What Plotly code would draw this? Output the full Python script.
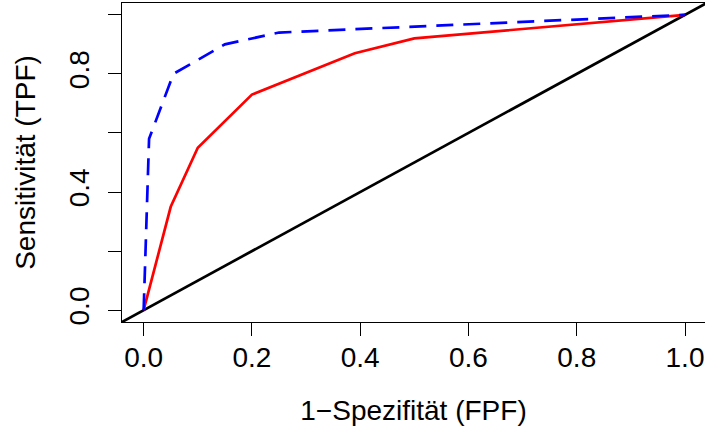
import plotly.graph_objects as go

# ROC curves: false positive fraction vs. true positive fraction
fpf_red = [0.0, 0.05, 0.10, 0.20, 0.39, 0.50, 1.0]
tpf_red = [0.0, 0.35, 0.55, 0.73, 0.87, 0.92, 1.0]

fpf_blue = [0.0, 0.01, 0.055, 0.15, 0.25, 1.0]
tpf_blue = [0.0, 0.58, 0.80, 0.90, 0.94, 1.0]

# chance line y = x, spanning the padded axis range
axis_lo, axis_hi = -0.04, 1.04
diag = [axis_lo, axis_hi]

tick_vals = [0.0, 0.2, 0.4, 0.6, 0.8, 1.0]
x_tick_text = ["0.0", "0.2", "0.4", "0.6", "0.8", "1.0"]
y_tick_text = ["0.0", "", "0.4", "", "0.8", ""]

W, H = 705, 436
left, right, top, bottom = 122, 0, 3, 114
x_max_visible = 1.0369

fig = go.Figure()
fig.add_trace(go.Scatter(x=diag, y=diag, mode="lines",
                         line=dict(color="black", width=2.7), hoverinfo="skip"))
fig.add_trace(go.Scatter(x=fpf_red, y=tpf_red, mode="lines",
                         line=dict(color="#ff0000", width=2.7)))
fig.add_trace(go.Scatter(x=fpf_blue, y=tpf_blue, mode="lines",
                         line=dict(color="#0000ff", width=2.7, dash="17px,10px")))

font = dict(family="Liberation Sans, Arial, sans-serif", size=28, color="black")

fig.update_layout(
    width=W, height=H,
    margin=dict(l=left, r=right, t=top, b=bottom, pad=0),
    paper_bgcolor="white", plot_bgcolor="white",
    showlegend=False,
    font=font,
    xaxis=dict(
        range=[axis_lo, x_max_visible], tickvals=tick_vals, ticktext=x_tick_text,
        ticks="outside", ticklen=13, tickwidth=1.2, tickcolor="black",
        showline=True, linecolor="black", linewidth=1.3, mirror=True,
        showgrid=False, zeroline=False, tickfont=font,
        ticklabelstandoff=-3,
        title=dict(text="1\u2212Spezifität (FPF)", font=font, standoff=28),
    ),
    yaxis=dict(
        range=[axis_lo, axis_hi], tickvals=tick_vals, ticktext=y_tick_text,
        ticks="outside", ticklen=13, tickwidth=1.2, tickcolor="black",
        showline=True, linecolor="black", linewidth=1.3, mirror=False,
        showgrid=False, zeroline=False, tickfont=font, tickangle=-90,
        ticklabelstandoff=8,
        title=dict(text="Sensitivität (TPF)", font=font, standoff=19),
    ),
)

fig.write_html("out.html")
